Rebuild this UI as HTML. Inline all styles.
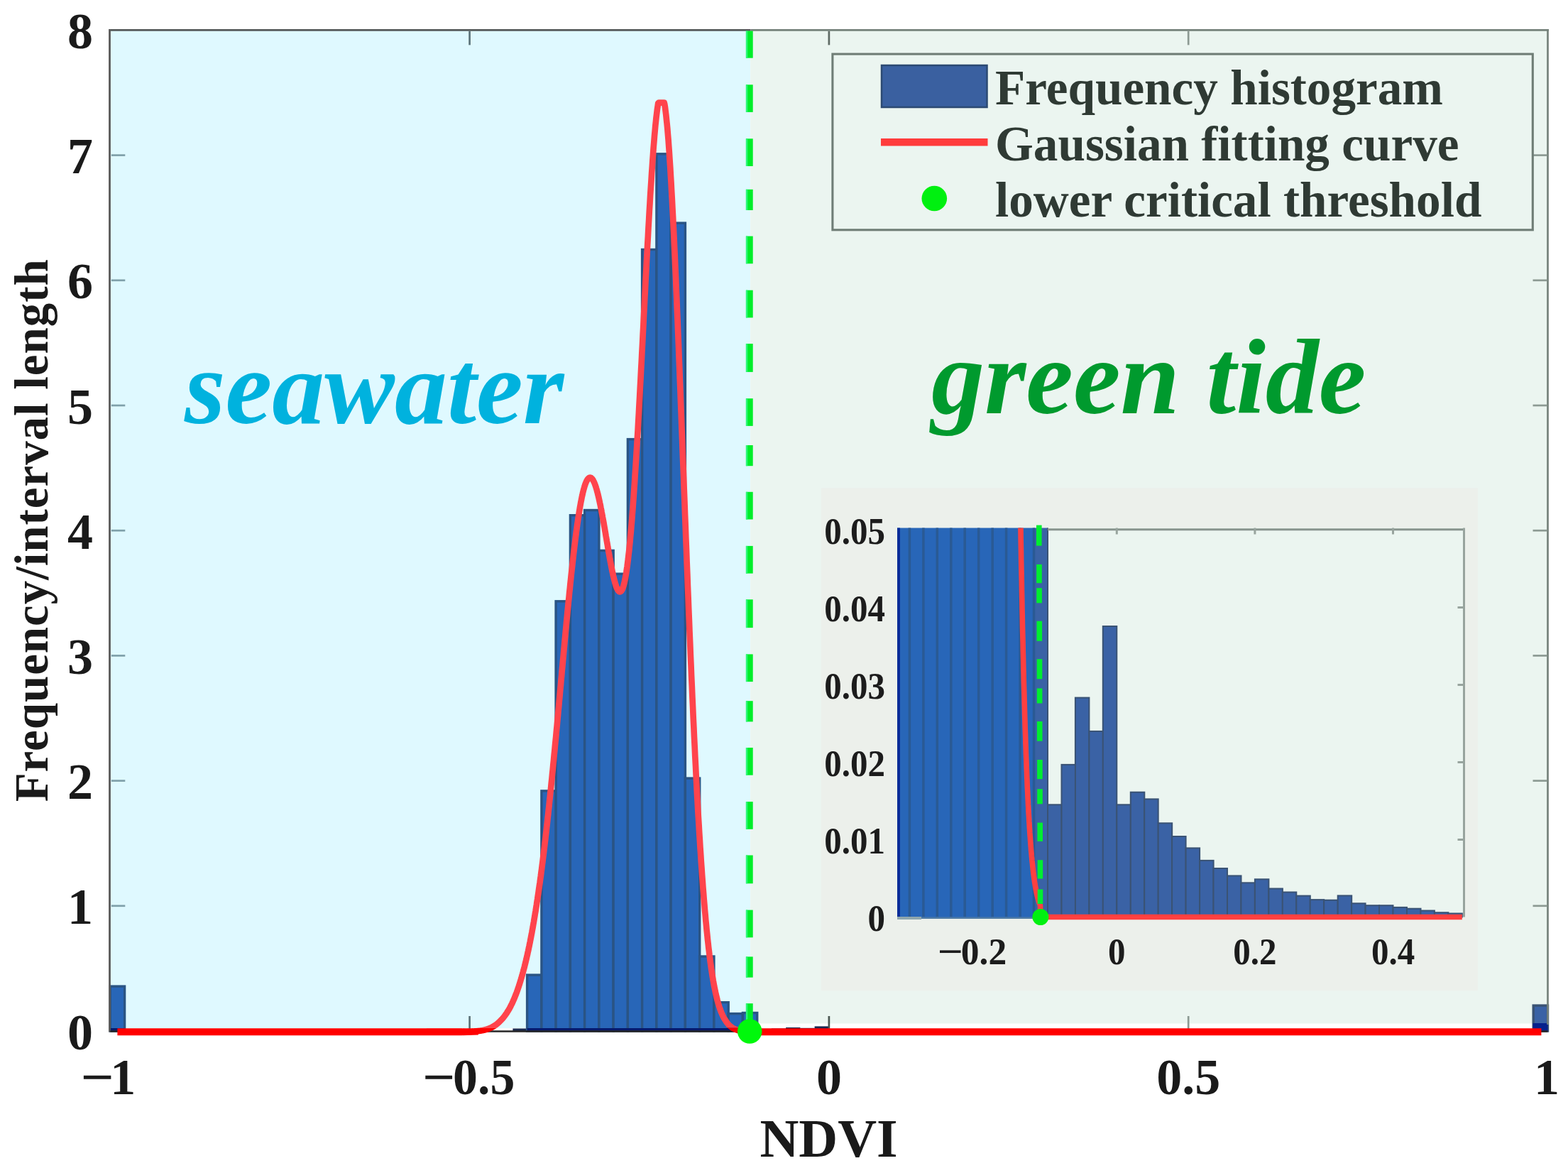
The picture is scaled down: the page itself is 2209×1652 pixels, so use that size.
<!DOCTYPE html>
<html lang="en"><head><meta charset="utf-8"><title>NDVI frequency histogram</title>
<style>
html,body{margin:0;padding:0;background:#fff;}
body{width:2209px;height:1652px;overflow:hidden;font-family:"Liberation Serif","Times New Roman",serif;}
svg{display:block;}
</style></head>
<body>
<svg width="2209" height="1652" viewBox="0 0 2209 1652">
<rect x="0" y="0" width="2209" height="1652" fill="#ffffff"/>
<rect x="155.3" y="42.4" width="901.9" height="1405.6" fill="#dff9ff"/>
<rect x="1057.2" y="42.4" width="1123.3" height="1399.1" fill="#ebf5f0"/>
<g id="bars" stroke-width="3.4">
<rect x="155.3" y="1389.1" width="20.3" height="62.9" fill="#2866b8" stroke="#2a5484"/>
<rect x="722.4" y="1448.5" width="20.3" height="3.5" fill="#1a2a50"/>
<rect x="742.6" y="1373.1" width="20.3" height="78.9" fill="#2866b8" stroke="#2a5484"/>
<rect x="762.9" y="1113.9" width="20.3" height="338.1" fill="#2866b8" stroke="#2a5484"/>
<rect x="783.1" y="846.8" width="20.3" height="605.2" fill="#2866b8" stroke="#2a5484"/>
<rect x="803.4" y="725.7" width="20.3" height="726.3" fill="#2866b8" stroke="#2a5484"/>
<rect x="823.6" y="718.5" width="20.3" height="733.5" fill="#2866b8" stroke="#2a5484"/>
<rect x="843.9" y="775.4" width="20.3" height="676.6" fill="#2866b8" stroke="#2a5484"/>
<rect x="864.1" y="808.2" width="20.3" height="643.8" fill="#2866b8" stroke="#2a5484"/>
<rect x="884.4" y="618.6" width="20.3" height="833.4" fill="#2866b8" stroke="#2a5484"/>
<rect x="904.6" y="351.5" width="20.3" height="1100.5" fill="#2866b8" stroke="#2a5484"/>
<rect x="924.9" y="216.8" width="20.3" height="1235.2" fill="#2866b8" stroke="#2a5484"/>
<rect x="945.1" y="314.1" width="20.3" height="1137.9" fill="#2866b8" stroke="#2a5484"/>
<rect x="965.4" y="1096.1" width="20.3" height="355.9" fill="#2866b8" stroke="#2a5484"/>
<rect x="985.6" y="1347.0" width="20.3" height="105.0" fill="#2866b8" stroke="#2a5484"/>
<rect x="1005.9" y="1411.7" width="20.3" height="40.3" fill="#2866b8" stroke="#2a5484"/>
<rect x="1026.1" y="1427.6" width="20.3" height="24.4" fill="#2866b8" stroke="#2a5484"/>
<rect x="1046.4" y="1426.5" width="20.3" height="25.5" fill="#2866b8" stroke="#2a5484"/>
<rect x="1066.6" y="1449.4" width="20.3" height="2.6" fill="#1a2a50"/>
<rect x="1086.9" y="1448.5" width="20.3" height="3.5" fill="#1a2a50"/>
<rect x="1107.1" y="1447.0" width="20.3" height="5.0" fill="#1a2a50"/>
<rect x="1127.4" y="1447.8" width="20.3" height="4.2" fill="#1a2a50"/>
<rect x="1147.6" y="1445.4" width="20.3" height="6.6" fill="#1a2a50"/>
<rect x="1167.9" y="1449.4" width="20.3" height="2.6" fill="#1a2a50"/>
<rect x="1188.2" y="1449.2" width="20.3" height="2.8" fill="#1a2a50"/>
<rect x="1208.4" y="1449.3" width="20.3" height="2.7" fill="#1a2a50"/>
<rect x="1228.7" y="1449.9" width="20.3" height="2.1" fill="#1a2a50"/>
<rect x="1248.9" y="1450.2" width="20.3" height="1.8" fill="#1a2a50"/>
<rect x="1269.2" y="1450.4" width="20.3" height="1.6" fill="#1a2a50"/>
<rect x="1289.4" y="1450.7" width="20.3" height="1.3" fill="#1a2a50"/>
<rect x="1309.7" y="1450.9" width="20.3" height="1.1" fill="#1a2a50"/>
<rect x="1329.9" y="1451.1" width="20.3" height="0.9" fill="#1a2a50"/>
<rect x="1350.2" y="1451.2" width="20.3" height="0.8" fill="#1a2a50"/>
<rect x="1370.4" y="1451.1" width="20.3" height="0.9" fill="#1a2a50"/>
<rect x="1390.7" y="1451.4" width="20.3" height="0.6" fill="#1a2a50"/>
<rect x="1410.9" y="1451.4" width="20.3" height="0.6" fill="#1a2a50"/>
<rect x="1431.2" y="1451.5" width="20.3" height="0.5" fill="#1a2a50"/>
<rect x="1451.4" y="1451.6" width="20.3" height="0.4" fill="#1a2a50"/>
<rect x="1471.7" y="1451.6" width="20.3" height="0.4" fill="#1a2a50"/>
<rect x="1491.9" y="1451.5" width="20.3" height="0.5" fill="#1a2a50"/>
<rect x="1512.2" y="1451.7" width="20.3" height="0.3" fill="#1a2a50"/>
<rect x="1532.4" y="1451.7" width="20.3" height="0.3" fill="#1a2a50"/>
<rect x="1552.7" y="1451.7" width="20.3" height="0.3" fill="#1a2a50"/>
<rect x="1572.9" y="1451.8" width="20.3" height="0.2" fill="#1a2a50"/>
<rect x="1593.2" y="1451.8" width="20.3" height="0.2" fill="#1a2a50"/>
<rect x="1613.4" y="1451.9" width="20.3" height="0.1" fill="#1a2a50"/>
<rect x="1633.7" y="1451.9" width="20.3" height="0.1" fill="#1a2a50"/>
<rect x="1653.9" y="1451.9" width="20.3" height="0.1" fill="#1a2a50"/>
<rect x="2160.2" y="1416.1" width="20.3" height="35.9" fill="#3a62a5" stroke="#3a5374"/>
</g>
<rect x="742.6" y="1448.0" width="324.0" height="5" fill="#061a6e"/>
<rect x="155.3" y="1448.0" width="20.2" height="5" fill="#061a6e"/>
<rect x="2159.5" y="1441.0" width="21.0" height="12" fill="#06208c"/>
<g id="frame" fill="none" stroke-width="2.7">
<line x1="154.5" y1="40.9" x2="154.5" y2="1453.5" stroke="#595959" stroke-width="2.8"/>
<line x1="155.3" y1="42.4" x2="1057.2" y2="42.4" stroke="#555a5a"/>
<line x1="1057.2" y1="42.4" x2="2182.0" y2="42.4" stroke="#75827b"/>
<line x1="2180.5" y1="42.4" x2="2180.5" y2="1443.0" stroke="#75827b"/>
<line x1="155.3" y1="1452.5" x2="2180.5" y2="1452.5" stroke="#262626"/>
<line x1="156.8" y1="1275.8" x2="176.3" y2="1275.8" stroke="#7fa0aa"/>
<line x1="2159.5" y1="1275.8" x2="2179.0" y2="1275.8" stroke="#8c9a93"/>
<line x1="156.8" y1="1099.6" x2="176.3" y2="1099.6" stroke="#7fa0aa"/>
<line x1="2159.5" y1="1099.6" x2="2179.0" y2="1099.6" stroke="#8c9a93"/>
<line x1="156.8" y1="923.4" x2="176.3" y2="923.4" stroke="#7fa0aa"/>
<line x1="2159.5" y1="923.4" x2="2179.0" y2="923.4" stroke="#8c9a93"/>
<line x1="156.8" y1="747.2" x2="176.3" y2="747.2" stroke="#7fa0aa"/>
<line x1="2159.5" y1="747.2" x2="2179.0" y2="747.2" stroke="#8c9a93"/>
<line x1="156.8" y1="571.0" x2="176.3" y2="571.0" stroke="#7fa0aa"/>
<line x1="2159.5" y1="571.0" x2="2179.0" y2="571.0" stroke="#8c9a93"/>
<line x1="156.8" y1="394.8" x2="176.3" y2="394.8" stroke="#7fa0aa"/>
<line x1="2159.5" y1="394.8" x2="2179.0" y2="394.8" stroke="#8c9a93"/>
<line x1="156.8" y1="218.6" x2="176.3" y2="218.6" stroke="#7fa0aa"/>
<line x1="2159.5" y1="218.6" x2="2179.0" y2="218.6" stroke="#8c9a93"/>
<line x1="661.6" y1="43.9" x2="661.6" y2="63.4" stroke="#5c737a"/>
<line x1="1167.9" y1="43.9" x2="1167.9" y2="63.4" stroke="#5e6a64"/>
<line x1="1674.2" y1="43.9" x2="1674.2" y2="63.4" stroke="#8c9a93"/>
<line x1="661.6" y1="1431.0" x2="661.6" y2="1452.0" stroke="#5c737a"/>
<line x1="1167.9" y1="1431.0" x2="1167.9" y2="1452.0" stroke="#4a5650"/>
<line x1="1674.2" y1="1431.0" x2="1674.2" y2="1452.0" stroke="#8c9a93"/>
</g>
<clipPath id="cTop"><rect x="0" y="0" width="2209" height="1447.4"/></clipPath>
<clipPath id="cBot"><rect x="0" y="1447.4" width="2209" height="40"/></clipPath>
<path d="M600.8,1453.2 L601.5,1453.2 L602.1,1453.2 L602.8,1453.2 L603.4,1453.2 L604.1,1453.2 L604.8,1453.2 L605.4,1453.2 L606.1,1453.2 L606.7,1453.2 L607.4,1453.2 L608.0,1453.2 L608.7,1453.2 L609.3,1453.2 L610.0,1453.2 L610.6,1453.2 L611.3,1453.2 L611.9,1453.2 L612.6,1453.2 L613.2,1453.2 L613.9,1453.2 L614.5,1453.2 L615.2,1453.2 L615.8,1453.2 L616.5,1453.2 L617.1,1453.2 L617.8,1453.2 L618.4,1453.2 L619.1,1453.2 L619.7,1453.2 L620.4,1453.2 L621.0,1453.2 L621.7,1453.2 L622.3,1453.2 L623.0,1453.2 L623.6,1453.2 L624.3,1453.2 L624.9,1453.2 L625.6,1453.2 L626.3,1453.2 L626.9,1453.2 L627.6,1453.2 L628.2,1453.2 L628.9,1453.2 L629.5,1453.2 L630.2,1453.2 L630.8,1453.2 L631.5,1453.2 L632.1,1453.2 L632.8,1453.2 L633.4,1453.2 L634.1,1453.2 L634.7,1453.2 L635.4,1453.2 L636.0,1453.2 L636.7,1453.2 L637.3,1453.2 L638.0,1453.2 L638.6,1453.2 L639.3,1453.2 L639.9,1453.2 L640.6,1453.2 L641.2,1453.2 L641.9,1453.2 L642.5,1453.2 L643.2,1453.2 L643.8,1453.2 L644.5,1453.2 L645.1,1453.1 L645.8,1453.1 L646.4,1453.1 L647.1,1453.1 L647.7,1453.1 L648.4,1453.1 L649.1,1453.1 L649.7,1453.1 L650.4,1453.1 L651.0,1453.1 L651.7,1453.1 L652.3,1453.1 L653.0,1453.1 L653.6,1453.1 L654.3,1453.0 L654.9,1453.0 L655.6,1453.0 L656.2,1453.0 L656.9,1453.0 L657.5,1453.0 L658.2,1453.0 L658.8,1452.9 L659.5,1452.9 L660.1,1452.9 L660.8,1452.9 L661.4,1452.9 L662.1,1452.8 L662.7,1452.8 L663.4,1452.8 L664.0,1452.8 L664.7,1452.7 L665.3,1452.7 L666.0,1452.7 L666.6,1452.6 L667.3,1452.6 L667.9,1452.5 L668.6,1452.5 L669.2,1452.4 L669.9,1452.4 L670.5,1452.3 L671.2,1452.3 L671.9,1452.2 L672.5,1452.1 L673.2,1452.1 L673.8,1452.0 L674.5,1451.9 L675.1,1451.8 L675.8,1451.8 L676.4,1451.7 L677.1,1451.6 L677.7,1451.5 L678.4,1451.3 L679.0,1451.2 L679.7,1451.1 L680.3,1451.0 L681.0,1450.9 L681.6,1450.7 L682.3,1450.6 L682.9,1450.4 L683.6,1450.2 L684.2,1450.1 L684.9,1449.9 L685.5,1449.7 L686.2,1449.5 L686.8,1449.3 L687.5,1449.1 L688.1,1448.8 L688.8,1448.6 L689.4,1448.3 L690.1,1448.1 L690.7,1447.8 L691.4,1447.5 L692.0,1447.2 L692.7,1446.9 L693.4,1446.5 L694.0,1446.2 L694.7,1445.8 L695.3,1445.4 L696.0,1445.0 L696.6,1444.6 L697.3,1444.2 L697.9,1443.7 L698.6,1443.3 L699.2,1442.8 L699.9,1442.3 L700.5,1441.8 L701.2,1441.2 L701.8,1440.7 L702.5,1440.1 L703.1,1439.5 L703.8,1438.8 L704.4,1438.2 L705.1,1437.5 L705.7,1436.9 L706.4,1436.2 L707.0,1435.5 L707.7,1434.8 L708.3,1434.0 L709.0,1433.3 L709.6,1432.5 L710.3,1431.7 L710.9,1430.8 L711.6,1429.9 L712.2,1429.0 L712.9,1428.1 L713.5,1427.2 L714.2,1426.2 L714.8,1425.1 L715.5,1424.1 L716.2,1423.0 L716.8,1421.9 L717.5,1420.8 L718.1,1419.6 L718.8,1418.4 L719.4,1417.1 L720.1,1415.8 L720.7,1414.5 L721.4,1413.2 L722.0,1411.8 L722.7,1410.4 L723.3,1408.9 L724.0,1407.4 L724.6,1405.9 L725.3,1404.3 L725.9,1402.7 L726.6,1401.0 L727.2,1399.3 L727.9,1397.6 L728.5,1395.8 L729.2,1394.0 L729.8,1392.1 L730.5,1390.2 L731.1,1388.3 L731.8,1386.3 L732.4,1384.2 L733.1,1382.1 L733.7,1380.0 L734.4,1377.8 L735.0,1375.6 L735.7,1373.3 L736.3,1371.0 L737.0,1368.6 L737.6,1366.1 L738.3,1363.7 L739.0,1361.1 L739.6,1358.5 L740.3,1355.9 L740.9,1353.2 L741.6,1350.4 L742.2,1347.6 L742.9,1344.8 L743.5,1341.8 L744.2,1338.9 L744.8,1335.8 L745.5,1332.7 L746.1,1329.6 L746.8,1326.3 L747.4,1323.1 L748.1,1319.7 L748.7,1316.3 L749.4,1312.8 L750.0,1309.3 L750.7,1305.7 L751.3,1302.0 L752.0,1298.3 L752.6,1294.5 L753.3,1290.6 L753.9,1286.7 L754.6,1282.7 L755.2,1278.6 L755.9,1274.4 L756.5,1270.2 L757.2,1265.9 L757.8,1261.6 L758.5,1257.1 L759.1,1252.6 L759.8,1248.0 L760.5,1243.4 L761.1,1238.7 L761.8,1233.9 L762.4,1229.0 L763.1,1224.0 L763.7,1219.0 L764.4,1213.9 L765.0,1208.7 L765.7,1203.5 L766.3,1198.2 L767.0,1192.8 L767.6,1187.3 L768.3,1181.8 L768.9,1176.2 L769.6,1170.5 L770.2,1164.7 L770.9,1158.9 L771.5,1153.0 L772.2,1147.0 L772.8,1141.0 L773.5,1134.9 L774.1,1128.8 L774.8,1122.5 L775.4,1116.3 L776.1,1109.9 L776.7,1103.5 L777.4,1097.0 L778.0,1090.5 L778.7,1084.0 L779.3,1077.3 L780.0,1070.7 L780.6,1063.9 L781.3,1057.2 L781.9,1050.4 L782.6,1043.5 L783.3,1036.6 L783.9,1029.7 L784.6,1022.8 L785.2,1015.8 L785.9,1008.8 L786.5,1001.7 L787.2,994.7 L787.8,987.6 L788.5,980.5 L789.1,973.4 L789.8,966.3 L790.4,959.2 L791.1,952.1 L791.7,945.0 L792.4,937.9 L793.0,930.8 L793.7,923.8 L794.3,916.7 L795.0,909.7 L795.6,902.7 L796.3,895.7 L796.9,888.8 L797.6,881.9 L798.2,875.1 L798.9,868.3 L799.5,861.5 L800.2,854.8 L800.8,848.2 L801.5,841.6 L802.1,835.1 L802.8,828.7 L803.4,822.3 L804.1,816.1 L804.7,809.9 L805.4,803.8 L806.1,797.8 L806.7,791.9 L807.4,786.1 L808.0,780.4 L808.7,774.8 L809.3,769.4 L810.0,764.0 L810.6,758.8 L811.3,753.7 L811.9,748.7 L812.6,743.9 L813.2,739.2 L813.9,734.6 L814.5,730.2 L815.2,725.9 L815.8,721.8 L816.5,717.8 L817.1,714.0 L817.8,710.3 L818.4,706.8 L819.1,703.5 L819.7,700.3 L820.4,697.3 L821.0,694.4 L821.7,691.7 L822.3,689.2 L823.0,686.9 L823.6,684.7 L824.3,682.8 L824.9,680.9 L825.6,679.3 L826.2,677.9 L826.9,676.6 L827.5,675.5 L828.2,674.6 L828.9,673.8 L829.5,673.3 L830.2,672.9 L830.8,672.7 L831.5,672.6 L832.1,672.8 L832.8,673.1 L833.4,673.6 L834.1,674.2 L834.7,675.0 L835.4,676.0 L836.0,677.2 L836.7,678.5 L837.3,679.9 L838.0,681.6 L838.6,683.3 L839.3,685.2 L839.9,687.3 L840.6,689.5 L841.2,691.8 L841.9,694.3 L842.5,696.9 L843.2,699.6 L843.8,702.4 L844.5,705.4 L845.1,708.4 L845.8,711.5 L846.4,714.8 L847.1,718.1 L847.7,721.5 L848.4,725.0 L849.0,728.5 L849.7,732.1 L850.4,735.8 L851.0,739.5 L851.7,743.3 L852.3,747.0 L853.0,750.8 L853.6,754.7 L854.3,758.5 L854.9,762.3 L855.6,766.1 L856.2,769.9 L856.9,773.7 L857.5,777.5 L858.2,781.2 L858.8,784.8 L859.5,788.4 L860.1,791.9 L860.8,795.4 L861.4,798.7 L862.1,802.0 L862.7,805.1 L863.4,808.1 L864.0,811.0 L864.7,813.8 L865.3,816.4 L866.0,818.9 L866.6,821.2 L867.3,823.3 L867.9,825.3 L868.6,827.1 L869.2,828.6 L869.9,830.0 L870.5,831.1 L871.2,832.0 L871.8,832.7 L872.5,833.2 L873.2,833.4 L873.8,833.3 L874.5,833.0 L875.1,832.4 L875.8,831.5 L876.4,830.4 L877.1,829.0 L877.7,827.2 L878.4,825.2 L879.0,822.9 L879.7,820.2 L880.3,817.2 L881.0,814.0 L881.6,810.4 L882.3,806.4 L882.9,802.2 L883.6,797.6 L884.2,792.7 L884.9,787.4 L885.5,781.8 L886.2,775.9 L886.8,769.7 L887.5,763.1 L888.1,756.2 L888.8,749.0 L889.4,741.5 L890.1,733.6 L890.7,725.4 L891.4,717.0 L892.0,708.2 L892.7,699.1 L893.3,689.7 L894.0,680.1 L894.6,670.2 L895.3,660.0 L896.0,649.5 L896.6,638.8 L897.3,627.9 L897.9,616.8 L898.6,605.4 L899.2,593.9 L899.9,582.1 L900.5,570.2 L901.2,558.1 L901.8,545.9 L902.5,533.6 L903.1,521.1 L903.8,508.5 L904.4,495.9 L905.1,483.2 L905.7,470.5 L906.4,457.7 L907.0,444.9 L907.7,432.1 L908.3,419.4 L909.0,406.7 L909.6,394.0 L910.3,381.5 L910.9,369.0 L911.6,356.7 L912.2,344.5 L912.9,332.5 L913.5,320.6 L914.2,309.0 L914.8,297.5 L915.5,286.4 L916.1,275.4 L916.8,264.8 L917.5,254.4 L918.1,244.3 L918.8,234.6 L919.4,225.3 L920.1,216.2 L920.7,207.6 L921.4,199.4 L922.0,191.6 L922.7,184.2 L923.3,177.2 L924.0,170.7 L924.6,164.7 L925.3,159.2 L925.9,154.1 L926.6,149.6 L927.2,145.5 L927.9,144.6 L928.5,144.6 L929.2,144.6 L929.8,144.6 L930.5,144.6 L931.1,144.6 L931.8,144.6 L932.4,144.6 L933.1,144.6 L933.7,144.6 L934.4,144.6 L935.0,144.6 L935.7,144.6 L936.3,146.9 L937.0,151.3 L937.6,156.2 L938.3,161.7 L938.9,167.7 L939.6,174.3 L940.3,181.4 L940.9,189.0 L941.6,197.2 L942.2,205.9 L942.9,215.1 L943.5,224.8 L944.2,234.9 L944.8,245.6 L945.5,256.7 L946.1,268.2 L946.8,280.2 L947.4,292.6 L948.1,305.4 L948.7,318.5 L949.4,332.1 L950.0,346.0 L950.7,360.2 L951.3,374.8 L952.0,389.6 L952.6,404.8 L953.3,420.2 L953.9,435.9 L954.6,451.7 L955.2,467.9 L955.9,484.2 L956.5,500.6 L957.2,517.3 L957.8,534.1 L958.5,551.0 L959.1,568.0 L959.8,585.1 L960.4,602.3 L961.1,619.5 L961.7,636.8 L962.4,654.1 L963.1,671.4 L963.7,688.6 L964.4,705.9 L965.0,723.1 L965.7,740.2 L966.3,757.3 L967.0,774.3 L967.6,791.2 L968.3,808.0 L968.9,824.6 L969.6,841.1 L970.2,857.5 L970.9,873.7 L971.5,889.7 L972.2,905.5 L972.8,921.2 L973.5,936.6 L974.1,951.8 L974.8,966.9 L975.4,981.6 L976.1,996.2 L976.7,1010.5 L977.4,1024.6 L978.0,1038.4 L978.7,1052.0 L979.3,1065.3 L980.0,1078.3 L980.6,1091.1 L981.3,1103.6 L981.9,1115.8 L982.6,1127.8 L983.2,1139.5 L983.9,1150.9 L984.6,1162.0 L985.2,1172.8 L985.9,1183.4 L986.5,1193.7 L987.2,1203.7 L987.8,1213.5 L988.5,1222.9 L989.1,1232.1 L989.8,1241.1 L990.4,1249.7 L991.1,1258.2 L991.7,1266.3 L992.4,1274.2 L993.0,1281.8 L993.7,1289.2 L994.3,1296.3 L995.0,1303.2 L995.6,1309.9 L996.3,1316.3 L996.9,1322.5 L997.6,1328.5 L998.2,1334.2 L998.9,1339.8 L999.5,1345.1 L1000.2,1350.2 L1000.8,1355.2 L1001.5,1359.9 L1002.1,1364.4 L1002.8,1368.8 L1003.4,1373.0 L1004.1,1377.0 L1004.7,1380.8 L1005.4,1384.5 L1006.0,1388.0 L1006.7,1391.4 L1007.4,1394.6 L1008.0,1397.7 L1008.7,1400.6 L1009.3,1403.4 L1010.0,1406.0 L1010.6,1408.6 L1011.3,1411.0 L1011.9,1413.3 L1012.6,1415.5 L1013.2,1417.6 L1013.9,1419.6 L1014.5,1421.4 L1015.2,1423.2 L1015.8,1424.9 L1016.5,1426.5 L1017.1,1428.0 L1017.8,1429.5 L1018.4,1430.9 L1019.1,1432.1 L1019.7,1433.4 L1020.4,1434.5 L1021.0,1435.6 L1021.7,1436.6 L1022.3,1437.6 L1023.0,1438.6 L1023.6,1439.5 L1024.3,1440.4 L1024.9,1441.2 L1025.6,1442.0 L1026.2,1442.8 L1026.9,1443.5 L1027.5,1444.1 L1028.2,1444.7 L1028.8,1445.3 L1029.5,1445.8 L1030.2,1446.3 L1030.8,1446.8 L1031.5,1447.3 L1032.1,1447.7 L1032.8,1448.1 L1033.4,1448.4 L1034.1,1448.8 L1034.7,1449.1 L1035.4,1449.4 L1036.0,1449.7 L1036.7,1449.9 L1037.3,1450.2 L1038.0,1450.4 L1038.6,1450.6 L1039.3,1450.8 L1039.9,1451.0 L1040.6,1451.1 L1041.2,1451.3 L1041.9,1451.4 L1042.5,1451.6 L1043.2,1451.7 L1043.8,1451.8 L1044.5,1451.9 L1045.1,1452.0 L1045.8,1452.1 L1046.4,1452.2 L1047.1,1452.3 L1047.7,1452.4 L1048.4,1452.4 L1049.0,1452.5 L1049.7,1452.6 L1050.3,1452.6 L1051.0,1452.7 L1051.7,1452.7 L1052.3,1452.7 L1053.0,1452.8 L1053.6,1452.8 L1054.3,1452.8 L1054.9,1452.9 L1055.6,1452.9 L1056.2,1452.9" fill="none" stroke="#ff444c" stroke-width="8.7" stroke-linejoin="round" clip-path="url(#cTop)"/>
<path d="M600.8,1453.2 L601.5,1453.2 L602.1,1453.2 L602.8,1453.2 L603.4,1453.2 L604.1,1453.2 L604.8,1453.2 L605.4,1453.2 L606.1,1453.2 L606.7,1453.2 L607.4,1453.2 L608.0,1453.2 L608.7,1453.2 L609.3,1453.2 L610.0,1453.2 L610.6,1453.2 L611.3,1453.2 L611.9,1453.2 L612.6,1453.2 L613.2,1453.2 L613.9,1453.2 L614.5,1453.2 L615.2,1453.2 L615.8,1453.2 L616.5,1453.2 L617.1,1453.2 L617.8,1453.2 L618.4,1453.2 L619.1,1453.2 L619.7,1453.2 L620.4,1453.2 L621.0,1453.2 L621.7,1453.2 L622.3,1453.2 L623.0,1453.2 L623.6,1453.2 L624.3,1453.2 L624.9,1453.2 L625.6,1453.2 L626.3,1453.2 L626.9,1453.2 L627.6,1453.2 L628.2,1453.2 L628.9,1453.2 L629.5,1453.2 L630.2,1453.2 L630.8,1453.2 L631.5,1453.2 L632.1,1453.2 L632.8,1453.2 L633.4,1453.2 L634.1,1453.2 L634.7,1453.2 L635.4,1453.2 L636.0,1453.2 L636.7,1453.2 L637.3,1453.2 L638.0,1453.2 L638.6,1453.2 L639.3,1453.2 L639.9,1453.2 L640.6,1453.2 L641.2,1453.2 L641.9,1453.2 L642.5,1453.2 L643.2,1453.2 L643.8,1453.2 L644.5,1453.2 L645.1,1453.1 L645.8,1453.1 L646.4,1453.1 L647.1,1453.1 L647.7,1453.1 L648.4,1453.1 L649.1,1453.1 L649.7,1453.1 L650.4,1453.1 L651.0,1453.1 L651.7,1453.1 L652.3,1453.1 L653.0,1453.1 L653.6,1453.1 L654.3,1453.0 L654.9,1453.0 L655.6,1453.0 L656.2,1453.0 L656.9,1453.0 L657.5,1453.0 L658.2,1453.0 L658.8,1452.9 L659.5,1452.9 L660.1,1452.9 L660.8,1452.9 L661.4,1452.9 L662.1,1452.8 L662.7,1452.8 L663.4,1452.8 L664.0,1452.8 L664.7,1452.7 L665.3,1452.7 L666.0,1452.7 L666.6,1452.6 L667.3,1452.6 L667.9,1452.5 L668.6,1452.5 L669.2,1452.4 L669.9,1452.4 L670.5,1452.3 L671.2,1452.3 L671.9,1452.2 L672.5,1452.1 L673.2,1452.1 L673.8,1452.0 L674.5,1451.9 L675.1,1451.8 L675.8,1451.8 L676.4,1451.7 L677.1,1451.6 L677.7,1451.5 L678.4,1451.3 L679.0,1451.2 L679.7,1451.1 L680.3,1451.0 L681.0,1450.9 L681.6,1450.7 L682.3,1450.6 L682.9,1450.4 L683.6,1450.2 L684.2,1450.1 L684.9,1449.9 L685.5,1449.7 L686.2,1449.5 L686.8,1449.3 L687.5,1449.1 L688.1,1448.8 L688.8,1448.6 L689.4,1448.3 L690.1,1448.1 L690.7,1447.8 L691.4,1447.5 L692.0,1447.2 L692.7,1446.9 L693.4,1446.5 L694.0,1446.2 L694.7,1445.8 L695.3,1445.4 L696.0,1445.0 L696.6,1444.6 L697.3,1444.2 L697.9,1443.7 L698.6,1443.3 L699.2,1442.8 L699.9,1442.3 L700.5,1441.8 L701.2,1441.2 L701.8,1440.7 L702.5,1440.1 L703.1,1439.5 L703.8,1438.8 L704.4,1438.2 L705.1,1437.5 L705.7,1436.9 L706.4,1436.2 L707.0,1435.5 L707.7,1434.8 L708.3,1434.0 L709.0,1433.3 L709.6,1432.5 L710.3,1431.7 L710.9,1430.8 L711.6,1429.9 L712.2,1429.0 L712.9,1428.1 L713.5,1427.2 L714.2,1426.2 L714.8,1425.1 L715.5,1424.1 L716.2,1423.0 L716.8,1421.9 L717.5,1420.8 L718.1,1419.6 L718.8,1418.4 L719.4,1417.1 L720.1,1415.8 L720.7,1414.5 L721.4,1413.2 L722.0,1411.8 L722.7,1410.4 L723.3,1408.9 L724.0,1407.4 L724.6,1405.9 L725.3,1404.3 L725.9,1402.7 L726.6,1401.0 L727.2,1399.3 L727.9,1397.6 L728.5,1395.8 L729.2,1394.0 L729.8,1392.1 L730.5,1390.2 L731.1,1388.3 L731.8,1386.3 L732.4,1384.2 L733.1,1382.1 L733.7,1380.0 L734.4,1377.8 L735.0,1375.6 L735.7,1373.3 L736.3,1371.0 L737.0,1368.6 L737.6,1366.1 L738.3,1363.7 L739.0,1361.1 L739.6,1358.5 L740.3,1355.9 L740.9,1353.2 L741.6,1350.4 L742.2,1347.6 L742.9,1344.8 L743.5,1341.8 L744.2,1338.9 L744.8,1335.8 L745.5,1332.7 L746.1,1329.6 L746.8,1326.3 L747.4,1323.1 L748.1,1319.7 L748.7,1316.3 L749.4,1312.8 L750.0,1309.3 L750.7,1305.7 L751.3,1302.0 L752.0,1298.3 L752.6,1294.5 L753.3,1290.6 L753.9,1286.7 L754.6,1282.7 L755.2,1278.6 L755.9,1274.4 L756.5,1270.2 L757.2,1265.9 L757.8,1261.6 L758.5,1257.1 L759.1,1252.6 L759.8,1248.0 L760.5,1243.4 L761.1,1238.7 L761.8,1233.9 L762.4,1229.0 L763.1,1224.0 L763.7,1219.0 L764.4,1213.9 L765.0,1208.7 L765.7,1203.5 L766.3,1198.2 L767.0,1192.8 L767.6,1187.3 L768.3,1181.8 L768.9,1176.2 L769.6,1170.5 L770.2,1164.7 L770.9,1158.9 L771.5,1153.0 L772.2,1147.0 L772.8,1141.0 L773.5,1134.9 L774.1,1128.8 L774.8,1122.5 L775.4,1116.3 L776.1,1109.9 L776.7,1103.5 L777.4,1097.0 L778.0,1090.5 L778.7,1084.0 L779.3,1077.3 L780.0,1070.7 L780.6,1063.9 L781.3,1057.2 L781.9,1050.4 L782.6,1043.5 L783.3,1036.6 L783.9,1029.7 L784.6,1022.8 L785.2,1015.8 L785.9,1008.8 L786.5,1001.7 L787.2,994.7 L787.8,987.6 L788.5,980.5 L789.1,973.4 L789.8,966.3 L790.4,959.2 L791.1,952.1 L791.7,945.0 L792.4,937.9 L793.0,930.8 L793.7,923.8 L794.3,916.7 L795.0,909.7 L795.6,902.7 L796.3,895.7 L796.9,888.8 L797.6,881.9 L798.2,875.1 L798.9,868.3 L799.5,861.5 L800.2,854.8 L800.8,848.2 L801.5,841.6 L802.1,835.1 L802.8,828.7 L803.4,822.3 L804.1,816.1 L804.7,809.9 L805.4,803.8 L806.1,797.8 L806.7,791.9 L807.4,786.1 L808.0,780.4 L808.7,774.8 L809.3,769.4 L810.0,764.0 L810.6,758.8 L811.3,753.7 L811.9,748.7 L812.6,743.9 L813.2,739.2 L813.9,734.6 L814.5,730.2 L815.2,725.9 L815.8,721.8 L816.5,717.8 L817.1,714.0 L817.8,710.3 L818.4,706.8 L819.1,703.5 L819.7,700.3 L820.4,697.3 L821.0,694.4 L821.7,691.7 L822.3,689.2 L823.0,686.9 L823.6,684.7 L824.3,682.8 L824.9,680.9 L825.6,679.3 L826.2,677.9 L826.9,676.6 L827.5,675.5 L828.2,674.6 L828.9,673.8 L829.5,673.3 L830.2,672.9 L830.8,672.7 L831.5,672.6 L832.1,672.8 L832.8,673.1 L833.4,673.6 L834.1,674.2 L834.7,675.0 L835.4,676.0 L836.0,677.2 L836.7,678.5 L837.3,679.9 L838.0,681.6 L838.6,683.3 L839.3,685.2 L839.9,687.3 L840.6,689.5 L841.2,691.8 L841.9,694.3 L842.5,696.9 L843.2,699.6 L843.8,702.4 L844.5,705.4 L845.1,708.4 L845.8,711.5 L846.4,714.8 L847.1,718.1 L847.7,721.5 L848.4,725.0 L849.0,728.5 L849.7,732.1 L850.4,735.8 L851.0,739.5 L851.7,743.3 L852.3,747.0 L853.0,750.8 L853.6,754.7 L854.3,758.5 L854.9,762.3 L855.6,766.1 L856.2,769.9 L856.9,773.7 L857.5,777.5 L858.2,781.2 L858.8,784.8 L859.5,788.4 L860.1,791.9 L860.8,795.4 L861.4,798.7 L862.1,802.0 L862.7,805.1 L863.4,808.1 L864.0,811.0 L864.7,813.8 L865.3,816.4 L866.0,818.9 L866.6,821.2 L867.3,823.3 L867.9,825.3 L868.6,827.1 L869.2,828.6 L869.9,830.0 L870.5,831.1 L871.2,832.0 L871.8,832.7 L872.5,833.2 L873.2,833.4 L873.8,833.3 L874.5,833.0 L875.1,832.4 L875.8,831.5 L876.4,830.4 L877.1,829.0 L877.7,827.2 L878.4,825.2 L879.0,822.9 L879.7,820.2 L880.3,817.2 L881.0,814.0 L881.6,810.4 L882.3,806.4 L882.9,802.2 L883.6,797.6 L884.2,792.7 L884.9,787.4 L885.5,781.8 L886.2,775.9 L886.8,769.7 L887.5,763.1 L888.1,756.2 L888.8,749.0 L889.4,741.5 L890.1,733.6 L890.7,725.4 L891.4,717.0 L892.0,708.2 L892.7,699.1 L893.3,689.7 L894.0,680.1 L894.6,670.2 L895.3,660.0 L896.0,649.5 L896.6,638.8 L897.3,627.9 L897.9,616.8 L898.6,605.4 L899.2,593.9 L899.9,582.1 L900.5,570.2 L901.2,558.1 L901.8,545.9 L902.5,533.6 L903.1,521.1 L903.8,508.5 L904.4,495.9 L905.1,483.2 L905.7,470.5 L906.4,457.7 L907.0,444.9 L907.7,432.1 L908.3,419.4 L909.0,406.7 L909.6,394.0 L910.3,381.5 L910.9,369.0 L911.6,356.7 L912.2,344.5 L912.9,332.5 L913.5,320.6 L914.2,309.0 L914.8,297.5 L915.5,286.4 L916.1,275.4 L916.8,264.8 L917.5,254.4 L918.1,244.3 L918.8,234.6 L919.4,225.3 L920.1,216.2 L920.7,207.6 L921.4,199.4 L922.0,191.6 L922.7,184.2 L923.3,177.2 L924.0,170.7 L924.6,164.7 L925.3,159.2 L925.9,154.1 L926.6,149.6 L927.2,145.5 L927.9,144.6 L928.5,144.6 L929.2,144.6 L929.8,144.6 L930.5,144.6 L931.1,144.6 L931.8,144.6 L932.4,144.6 L933.1,144.6 L933.7,144.6 L934.4,144.6 L935.0,144.6 L935.7,144.6 L936.3,146.9 L937.0,151.3 L937.6,156.2 L938.3,161.7 L938.9,167.7 L939.6,174.3 L940.3,181.4 L940.9,189.0 L941.6,197.2 L942.2,205.9 L942.9,215.1 L943.5,224.8 L944.2,234.9 L944.8,245.6 L945.5,256.7 L946.1,268.2 L946.8,280.2 L947.4,292.6 L948.1,305.4 L948.7,318.5 L949.4,332.1 L950.0,346.0 L950.7,360.2 L951.3,374.8 L952.0,389.6 L952.6,404.8 L953.3,420.2 L953.9,435.9 L954.6,451.7 L955.2,467.9 L955.9,484.2 L956.5,500.6 L957.2,517.3 L957.8,534.1 L958.5,551.0 L959.1,568.0 L959.8,585.1 L960.4,602.3 L961.1,619.5 L961.7,636.8 L962.4,654.1 L963.1,671.4 L963.7,688.6 L964.4,705.9 L965.0,723.1 L965.7,740.2 L966.3,757.3 L967.0,774.3 L967.6,791.2 L968.3,808.0 L968.9,824.6 L969.6,841.1 L970.2,857.5 L970.9,873.7 L971.5,889.7 L972.2,905.5 L972.8,921.2 L973.5,936.6 L974.1,951.8 L974.8,966.9 L975.4,981.6 L976.1,996.2 L976.7,1010.5 L977.4,1024.6 L978.0,1038.4 L978.7,1052.0 L979.3,1065.3 L980.0,1078.3 L980.6,1091.1 L981.3,1103.6 L981.9,1115.8 L982.6,1127.8 L983.2,1139.5 L983.9,1150.9 L984.6,1162.0 L985.2,1172.8 L985.9,1183.4 L986.5,1193.7 L987.2,1203.7 L987.8,1213.5 L988.5,1222.9 L989.1,1232.1 L989.8,1241.1 L990.4,1249.7 L991.1,1258.2 L991.7,1266.3 L992.4,1274.2 L993.0,1281.8 L993.7,1289.2 L994.3,1296.3 L995.0,1303.2 L995.6,1309.9 L996.3,1316.3 L996.9,1322.5 L997.6,1328.5 L998.2,1334.2 L998.9,1339.8 L999.5,1345.1 L1000.2,1350.2 L1000.8,1355.2 L1001.5,1359.9 L1002.1,1364.4 L1002.8,1368.8 L1003.4,1373.0 L1004.1,1377.0 L1004.7,1380.8 L1005.4,1384.5 L1006.0,1388.0 L1006.7,1391.4 L1007.4,1394.6 L1008.0,1397.7 L1008.7,1400.6 L1009.3,1403.4 L1010.0,1406.0 L1010.6,1408.6 L1011.3,1411.0 L1011.9,1413.3 L1012.6,1415.5 L1013.2,1417.6 L1013.9,1419.6 L1014.5,1421.4 L1015.2,1423.2 L1015.8,1424.9 L1016.5,1426.5 L1017.1,1428.0 L1017.8,1429.5 L1018.4,1430.9 L1019.1,1432.1 L1019.7,1433.4 L1020.4,1434.5 L1021.0,1435.6 L1021.7,1436.6 L1022.3,1437.6 L1023.0,1438.6 L1023.6,1439.5 L1024.3,1440.4 L1024.9,1441.2 L1025.6,1442.0 L1026.2,1442.8 L1026.9,1443.5 L1027.5,1444.1 L1028.2,1444.7 L1028.8,1445.3 L1029.5,1445.8 L1030.2,1446.3 L1030.8,1446.8 L1031.5,1447.3 L1032.1,1447.7 L1032.8,1448.1 L1033.4,1448.4 L1034.1,1448.8 L1034.7,1449.1 L1035.4,1449.4 L1036.0,1449.7 L1036.7,1449.9 L1037.3,1450.2 L1038.0,1450.4 L1038.6,1450.6 L1039.3,1450.8 L1039.9,1451.0 L1040.6,1451.1 L1041.2,1451.3 L1041.9,1451.4 L1042.5,1451.6 L1043.2,1451.7 L1043.8,1451.8 L1044.5,1451.9 L1045.1,1452.0 L1045.8,1452.1 L1046.4,1452.2 L1047.1,1452.3 L1047.7,1452.4 L1048.4,1452.4 L1049.0,1452.5 L1049.7,1452.6 L1050.3,1452.6 L1051.0,1452.7 L1051.7,1452.7 L1052.3,1452.7 L1053.0,1452.8 L1053.6,1452.8 L1054.3,1452.8 L1054.9,1452.9 L1055.6,1452.9 L1056.2,1452.9" fill="none" stroke="#ff0000" stroke-width="8.7" stroke-linejoin="round" clip-path="url(#cBot)"/>
<line x1="165.4" y1="1453.2" x2="651.5" y2="1453.2" stroke="#ff0000" stroke-width="10"/>
<path d="M651.5,1448.2 L673.8,1448.85 L673.8,1457.55 L651.5,1458.2 Z" fill="#ff0000"/>
<line x1="1056.2" y1="1453.2" x2="2171.4" y2="1453.2" stroke="#ff0000" stroke-width="10"/>
<g id="thr">
<rect x="1050.9" y="43.5" width="9.8" height="38.2" fill="#00ee2a"/>
<rect x="1050.9" y="43.5" width="2.4" height="38.2" fill="#2cf676"/>
<rect x="1050.9" y="119.3" width="9.8" height="38.6" fill="#00ee2a"/>
<rect x="1050.9" y="119.3" width="2.4" height="38.6" fill="#2cf676"/>
<rect x="1050.9" y="195.3" width="9.8" height="38.7" fill="#00ee2a"/>
<rect x="1050.9" y="195.3" width="2.4" height="38.7" fill="#2cf676"/>
<rect x="1050.9" y="266.8" width="9.8" height="29.2" fill="#00ee2a"/>
<rect x="1050.9" y="266.8" width="2.4" height="29.2" fill="#2cf676"/>
<rect x="1050.9" y="332.6" width="9.8" height="38.7" fill="#00ee2a"/>
<rect x="1050.9" y="332.6" width="2.4" height="38.7" fill="#2cf676"/>
<rect x="1050.9" y="408.7" width="9.8" height="38.7" fill="#00ee2a"/>
<rect x="1050.9" y="408.7" width="2.4" height="38.7" fill="#2cf676"/>
<rect x="1050.9" y="484.1" width="9.8" height="39.8" fill="#00ee2a"/>
<rect x="1050.9" y="484.1" width="2.4" height="39.8" fill="#2cf676"/>
<rect x="1050.9" y="561.2" width="9.8" height="38.7" fill="#00ee2a"/>
<rect x="1050.9" y="561.2" width="2.4" height="38.7" fill="#2cf676"/>
<rect x="1050.9" y="627.0" width="9.8" height="29.2" fill="#00ee2a"/>
<rect x="1050.9" y="627.0" width="2.4" height="29.2" fill="#2cf676"/>
<rect x="1050.9" y="692.8" width="9.8" height="38.7" fill="#00ee2a"/>
<rect x="1050.9" y="692.8" width="2.4" height="38.7" fill="#2cf676"/>
<rect x="1050.9" y="768.9" width="9.8" height="38.7" fill="#00ee2a"/>
<rect x="1050.9" y="768.9" width="2.4" height="38.7" fill="#2cf676"/>
<rect x="1050.9" y="844.3" width="9.8" height="39.8" fill="#00ee2a"/>
<rect x="1050.9" y="844.3" width="2.4" height="39.8" fill="#2cf676"/>
<rect x="1050.9" y="921.4" width="9.8" height="38.7" fill="#00ee2a"/>
<rect x="1050.9" y="921.4" width="2.4" height="38.7" fill="#2cf676"/>
<rect x="1050.9" y="987.2" width="9.8" height="29.2" fill="#00ee2a"/>
<rect x="1050.9" y="987.2" width="2.4" height="29.2" fill="#2cf676"/>
<rect x="1050.9" y="1053.0" width="9.8" height="38.7" fill="#00ee2a"/>
<rect x="1050.9" y="1053.0" width="2.4" height="38.7" fill="#2cf676"/>
<rect x="1050.9" y="1129.1" width="9.8" height="38.7" fill="#00ee2a"/>
<rect x="1050.9" y="1129.1" width="2.4" height="38.7" fill="#2cf676"/>
<rect x="1050.9" y="1204.5" width="9.8" height="39.8" fill="#00ee2a"/>
<rect x="1050.9" y="1204.5" width="2.4" height="39.8" fill="#2cf676"/>
<rect x="1050.9" y="1281.6" width="9.8" height="38.7" fill="#00ee2a"/>
<rect x="1050.9" y="1281.6" width="2.4" height="38.7" fill="#2cf676"/>
<rect x="1050.9" y="1347.4" width="9.8" height="29.2" fill="#00ee2a"/>
<rect x="1050.9" y="1347.4" width="2.4" height="29.2" fill="#2cf676"/>
<rect x="1050.9" y="1413.2" width="9.8" height="38.7" fill="#00ee2a"/>
<rect x="1050.9" y="1413.2" width="2.4" height="38.7" fill="#2cf676"/>
<circle cx="1056.2" cy="1452.5" r="17.3" fill="#00f80c"/>
</g>
<g id="legend">
<rect x="1172.9" y="76.1" width="986.4" height="247.7" fill="#ebf5f0" stroke="#6f7d76" stroke-width="3.1"/>
<rect x="1242" y="92" width="148.5" height="59" fill="#3a60a0" stroke="#2c4a72" stroke-width="2.5"/>
<line x1="1241" y1="200.3" x2="1391.5" y2="200.3" stroke="#ff3c3c" stroke-width="10.5"/>
<circle cx="1316.3" cy="279.5" r="17.8" fill="#00f010"/>
</g>
<g id="inset">
<rect x="1156.8" y="687.3" width="925.2" height="707.7" fill="#ecf0eb"/>
<rect x="1476.0" y="743.5" width="586.5" height="548.0" fill="#ebf5f0"/>
<rect x="1264.0" y="743.5" width="17.4" height="549.8" fill="#2866b8"/>
<rect x="1281.4" y="743.5" width="19.5" height="549.8" fill="#2866b8"/>
<rect x="1300.9" y="743.5" width="19.5" height="549.8" fill="#2866b8"/>
<rect x="1320.3" y="743.5" width="19.5" height="549.8" fill="#2866b8"/>
<rect x="1339.8" y="743.5" width="19.5" height="549.8" fill="#2866b8"/>
<rect x="1359.2" y="743.5" width="19.5" height="549.8" fill="#2866b8"/>
<rect x="1378.7" y="743.5" width="19.5" height="549.8" fill="#2866b8"/>
<rect x="1398.2" y="743.5" width="19.5" height="549.8" fill="#2866b8"/>
<rect x="1417.6" y="743.5" width="19.5" height="549.8" fill="#2866b8"/>
<rect x="1437.1" y="743.5" width="19.5" height="549.8" fill="#2866b8"/>
<rect x="1456.5" y="743.5" width="19.5" height="549.8" fill="#3a62a5"/>
<line x1="1281.4" y1="743.5" x2="1281.4" y2="1291.5" stroke="#2a5a94" stroke-width="3.5"/>
<line x1="1300.9" y1="743.5" x2="1300.9" y2="1291.5" stroke="#2a5a94" stroke-width="3.5"/>
<line x1="1320.3" y1="743.5" x2="1320.3" y2="1291.5" stroke="#2a5a94" stroke-width="3.5"/>
<line x1="1339.8" y1="743.5" x2="1339.8" y2="1291.5" stroke="#2a5a94" stroke-width="3.5"/>
<line x1="1359.2" y1="743.5" x2="1359.2" y2="1291.5" stroke="#2a5a94" stroke-width="3.5"/>
<line x1="1378.7" y1="743.5" x2="1378.7" y2="1291.5" stroke="#2a5a94" stroke-width="3.5"/>
<line x1="1398.2" y1="743.5" x2="1398.2" y2="1291.5" stroke="#2a5a94" stroke-width="3.5"/>
<line x1="1417.6" y1="743.5" x2="1417.6" y2="1291.5" stroke="#2a5a94" stroke-width="3.5"/>
<line x1="1437.1" y1="743.5" x2="1437.1" y2="1291.5" stroke="#2a5a94" stroke-width="3.5"/>
<line x1="1456.5" y1="743.5" x2="1456.5" y2="1291.5" stroke="#2a5a94" stroke-width="3.5"/>
<line x1="1266.0" y1="743.5" x2="1266.0" y2="1291.5" stroke="#082c98" stroke-width="4"/>
<line x1="1476.0" y1="743.5" x2="1476.0" y2="1291.5" stroke="#3a5374" stroke-width="2"/>
<rect x="1476.0" y="1133.3" width="19.5" height="158.2" fill="#3a62a5" stroke="#3a5374" stroke-width="2"/>
<rect x="1495.5" y="1076.9" width="19.5" height="214.6" fill="#3a62a5" stroke="#3a5374" stroke-width="2"/>
<rect x="1514.9" y="982.6" width="19.5" height="308.9" fill="#3a62a5" stroke="#3a5374" stroke-width="2"/>
<rect x="1534.4" y="1029.9" width="19.5" height="261.6" fill="#3a62a5" stroke="#3a5374" stroke-width="2"/>
<rect x="1553.8" y="882.0" width="19.5" height="409.5" fill="#3a62a5" stroke="#3a5374" stroke-width="2"/>
<rect x="1573.3" y="1133.3" width="19.5" height="158.2" fill="#3a62a5" stroke="#3a5374" stroke-width="2"/>
<rect x="1592.8" y="1115.7" width="19.5" height="175.8" fill="#3a62a5" stroke="#3a5374" stroke-width="2"/>
<rect x="1612.2" y="1125.4" width="19.5" height="166.1" fill="#3a62a5" stroke="#3a5374" stroke-width="2"/>
<rect x="1631.7" y="1159.3" width="19.5" height="132.2" fill="#3a62a5" stroke="#3a5374" stroke-width="2"/>
<rect x="1651.1" y="1178.0" width="19.5" height="113.5" fill="#3a62a5" stroke="#3a5374" stroke-width="2"/>
<rect x="1670.6" y="1194.4" width="19.5" height="97.1" fill="#3a62a5" stroke="#3a5374" stroke-width="2"/>
<rect x="1690.1" y="1211.9" width="19.5" height="79.6" fill="#3a62a5" stroke="#3a5374" stroke-width="2"/>
<rect x="1709.5" y="1223.0" width="19.5" height="68.5" fill="#3a62a5" stroke="#3a5374" stroke-width="2"/>
<rect x="1729.0" y="1233.4" width="19.5" height="58.1" fill="#3a62a5" stroke="#3a5374" stroke-width="2"/>
<rect x="1748.4" y="1243.3" width="19.5" height="48.2" fill="#3a62a5" stroke="#3a5374" stroke-width="2"/>
<rect x="1767.9" y="1238.3" width="19.5" height="53.2" fill="#3a62a5" stroke="#3a5374" stroke-width="2"/>
<rect x="1787.4" y="1251.5" width="19.5" height="40.0" fill="#3a62a5" stroke="#3a5374" stroke-width="2"/>
<rect x="1806.8" y="1256.5" width="19.5" height="35.0" fill="#3a62a5" stroke="#3a5374" stroke-width="2"/>
<rect x="1826.3" y="1261.6" width="19.5" height="29.9" fill="#3a62a5" stroke="#3a5374" stroke-width="2"/>
<rect x="1845.7" y="1267.1" width="19.5" height="24.4" fill="#3a62a5" stroke="#3a5374" stroke-width="2"/>
<rect x="1865.2" y="1267.7" width="19.5" height="23.8" fill="#3a62a5" stroke="#3a5374" stroke-width="2"/>
<rect x="1884.7" y="1261.4" width="19.5" height="30.1" fill="#3a62a5" stroke="#3a5374" stroke-width="2"/>
<rect x="1904.1" y="1272.3" width="19.5" height="19.2" fill="#3a62a5" stroke="#3a5374" stroke-width="2"/>
<rect x="1923.6" y="1275.2" width="19.5" height="16.3" fill="#3a62a5" stroke="#3a5374" stroke-width="2"/>
<rect x="1943.0" y="1275.2" width="19.5" height="16.3" fill="#3a62a5" stroke="#3a5374" stroke-width="2"/>
<rect x="1962.5" y="1277.9" width="19.5" height="13.6" fill="#3a62a5" stroke="#3a5374" stroke-width="2"/>
<rect x="1982.0" y="1279.7" width="19.5" height="11.8" fill="#3a62a5" stroke="#3a5374" stroke-width="2"/>
<rect x="2001.4" y="1282.5" width="19.5" height="9.0" fill="#3a62a5" stroke="#3a5374" stroke-width="2"/>
<rect x="2020.9" y="1285.2" width="19.5" height="6.3" fill="#3a62a5" stroke="#3a5374" stroke-width="2"/>
<rect x="2040.3" y="1286.5" width="19.5" height="5.0" fill="#3a62a5" stroke="#3a5374" stroke-width="2"/>
<line x1="1476.0" y1="745.7" x2="2064.0" y2="745.7" stroke="#88948e" stroke-width="3"/>
<line x1="2062.5" y1="743.5" x2="2062.5" y2="1291.5" stroke="#98a49e" stroke-width="3"/>
<line x1="1264.0" y1="1293.1" x2="1298" y2="1293.1" stroke="#8fa6ad" stroke-width="4"/>
<line x1="1298" y1="1292.7" x2="1461.4" y2="1292.7" stroke="#4f7ba6" stroke-width="2.4"/>
<line x1="1573.3" y1="743.5" x2="1573.3" y2="752.5" stroke="#98a49e" stroke-width="3"/>
<line x1="1767.9" y1="743.5" x2="1767.9" y2="752.5" stroke="#98a49e" stroke-width="3"/>
<line x1="1962.5" y1="743.5" x2="1962.5" y2="752.5" stroke="#98a49e" stroke-width="3"/>
<line x1="2053.5" y1="1182.5" x2="2062.5" y2="1182.5" stroke="#98a49e" stroke-width="3"/>
<line x1="2053.5" y1="1073.5" x2="2062.5" y2="1073.5" stroke="#98a49e" stroke-width="3"/>
<line x1="2053.5" y1="964.5" x2="2062.5" y2="964.5" stroke="#98a49e" stroke-width="3"/>
<line x1="2053.5" y1="855.5" x2="2062.5" y2="855.5" stroke="#98a49e" stroke-width="3"/>
<clipPath id="ic"><rect x="1264.0" y="743.5" width="800.5" height="554.0"/></clipPath>
<path d="M1435.1,549.2 L1435.4,569.4 L1435.6,589.1 L1435.9,608.4 L1436.2,627.1 L1436.4,645.4 L1436.7,663.3 L1436.9,680.7 L1437.2,697.7 L1437.5,714.2 L1437.7,730.4 L1438.0,746.1 L1438.2,761.4 L1438.5,776.4 L1438.7,790.9 L1439.0,805.1 L1439.3,818.9 L1439.5,832.4 L1439.8,845.5 L1440.0,858.3 L1440.3,870.8 L1440.5,882.9 L1440.8,894.7 L1441.1,906.2 L1441.3,917.4 L1441.6,928.3 L1441.8,938.9 L1442.1,949.2 L1442.3,959.3 L1442.6,969.1 L1442.9,978.6 L1443.1,987.8 L1443.4,996.9 L1443.6,1005.6 L1443.9,1014.2 L1444.1,1022.5 L1444.4,1030.5 L1444.7,1038.4 L1444.9,1046.0 L1445.2,1053.4 L1445.4,1060.7 L1445.7,1067.7 L1446.0,1074.5 L1446.2,1081.1 L1446.5,1087.6 L1446.7,1093.8 L1447.0,1099.9 L1447.2,1105.8 L1447.5,1111.6 L1447.8,1117.2 L1448.0,1122.6 L1448.3,1127.8 L1448.5,1133.0 L1448.8,1137.9 L1449.0,1142.8 L1449.3,1147.4 L1449.6,1152.0 L1449.8,1156.4 L1450.1,1160.7 L1450.3,1164.9 L1450.6,1168.9 L1450.8,1172.8 L1451.1,1176.6 L1451.4,1180.3 L1451.6,1183.9 L1451.9,1187.4 L1452.1,1190.7 L1452.4,1194.0 L1452.6,1197.2 L1452.9,1200.3 L1453.2,1203.2 L1453.4,1206.1 L1453.7,1208.9 L1453.9,1211.6 L1454.2,1214.3 L1454.5,1216.8 L1454.7,1219.3 L1455.0,1221.7 L1455.2,1224.0 L1455.5,1226.3 L1455.7,1228.5 L1456.0,1230.6 L1456.3,1232.6 L1456.5,1234.6 L1456.8,1236.5 L1457.0,1238.4 L1457.3,1240.2 L1457.5,1241.9 L1457.8,1243.6 L1458.1,1245.3 L1458.3,1246.9 L1458.6,1248.4 L1458.8,1249.9 L1459.1,1251.3 L1459.3,1252.7 L1459.6,1254.0 L1459.9,1255.3 L1460.1,1256.6 L1460.4,1257.8 L1460.6,1259.0 L1460.9,1260.1 L1461.1,1261.2 L1461.4,1262.3 L1461.7,1263.3 L1461.9,1264.3 L1462.2,1265.3 L1462.4,1266.2 L1462.7,1267.1 L1463.0,1268.0 L1463.2,1268.8 L1463.5,1269.6 L1463.7,1270.4 L1464.0,1271.2 L1464.2,1271.9 L1464.5,1272.6 L1464.8,1273.3 L1465.0,1274.0 L1465.3,1274.6 L1465.5,1275.2 L1465.8,1291.5 L1465.8,1291.5 L2059.8,1291.5" fill="none" stroke="#ff4040" stroke-width="7.6" stroke-linejoin="round" clip-path="url(#ic)"/>
<rect x="1460.0" y="739.6" width="7.6" height="29.0" fill="#00ee30"/>
<rect x="1460.2" y="794.9" width="7.6" height="26.3" fill="#00ee30"/>
<rect x="1460.3" y="828.2" width="7.6" height="21.1" fill="#00ee30"/>
<rect x="1460.5" y="874.7" width="7.6" height="28.1" fill="#00ee30"/>
<rect x="1460.7" y="928.2" width="7.6" height="28.1" fill="#00ee30"/>
<rect x="1460.8" y="969.5" width="7.6" height="21.0" fill="#00ee30"/>
<rect x="1460.9" y="1016.0" width="7.6" height="27.7" fill="#00ee30"/>
<rect x="1461.1" y="1070.0" width="7.6" height="27.2" fill="#00ee30"/>
<rect x="1461.2" y="1111.2" width="7.6" height="21.1" fill="#00ee30"/>
<rect x="1461.4" y="1158.6" width="7.6" height="26.3" fill="#00ee30"/>
<rect x="1461.6" y="1211.2" width="7.6" height="26.3" fill="#00ee30"/>
<rect x="1461.7" y="1252.5" width="7.6" height="20.5" fill="#00ee30"/>
<circle cx="1465.9" cy="1291.5" r="11.5" fill="#00f010"/>
</g>
<g id="labels" font-family="'Liberation Serif', 'Times New Roman', serif" font-weight="bold" font-size="72" fill="#1a1a1a">
<text x="131" y="1477.5" text-anchor="end">0</text>
<text x="131" y="1301.3" text-anchor="end">1</text>
<text x="131" y="1125.1" text-anchor="end">2</text>
<text x="131" y="948.9" text-anchor="end">3</text>
<text x="131" y="772.7" text-anchor="end">4</text>
<text x="131" y="596.5" text-anchor="end">5</text>
<text x="131" y="420.3" text-anchor="end">6</text>
<text x="131" y="244.1" text-anchor="end">7</text>
<text x="131" y="67.9" text-anchor="end">8</text>
<text x="1167.9" y="1541" text-anchor="middle">0</text>
<text x="1674.2" y="1541" text-anchor="middle">0.5</text>
<text x="2179.0" y="1541" text-anchor="middle">1</text>
<g><text transform="translate(113.6,1541) scale(1.15,1)">−</text><text x="155.2" y="1541">1</text></g>
<g><text transform="translate(595.1,1541) scale(1.13,1)">−</text><text transform="translate(638.1,1541) scale(0.97,1)">0.5</text></g>
<text x="1167.5" y="1629" text-anchor="middle" font-size="76">NDVI</text>
<text transform="translate(67.4,1129.3) rotate(-90)" font-size="67" textLength="764" lengthAdjust="spacing">Frequency/interval length</text>
</g>
<g id="legtext" font-family="'Liberation Serif', 'Times New Roman', serif" font-weight="bold" font-size="69.2" fill="#2f3a34">
<text x="1402" y="147">Frequency histogram</text>
<text x="1402" y="225.5">Gaussian fitting curve</text>
<text x="1402" y="305">lower critical threshold</text>
</g>
<g id="big" font-family="'Liberation Serif', 'Times New Roman', serif" font-weight="bold" font-style="italic" font-size="150">
<text x="260" y="596.3" fill="#00b2de" font-size="148">seawater</text>
<text x="1312" y="582.4" fill="#009a2e">green tide</text>
</g>
<g id="insettext" font-family="'Liberation Serif', 'Times New Roman', serif" font-weight="bold" font-size="50.5" fill="#1c1c1c">
<text transform="translate(1247,1310.7) scale(0.97,1.05)" text-anchor="end">0</text>
<text transform="translate(1247,1201.7) scale(0.97,1.05)" text-anchor="end">0.01</text>
<text transform="translate(1247,1092.7) scale(0.97,1.05)" text-anchor="end">0.02</text>
<text transform="translate(1247,983.7) scale(0.97,1.05)" text-anchor="end">0.03</text>
<text transform="translate(1247,874.7) scale(0.97,1.05)" text-anchor="end">0.04</text>
<text transform="translate(1247,765.7) scale(0.97,1.05)" text-anchor="end">0.05</text>
<text transform="translate(1573.3,1357.6) scale(0.97,1.05)" text-anchor="middle">0</text>
<text transform="translate(1767.9,1357.6) scale(0.97,1.05)" text-anchor="middle">0.2</text>
<text transform="translate(1962.5,1357.6) scale(0.97,1.05)" text-anchor="middle">0.4</text>
<g><text transform="translate(1320.5,1357.6) scale(1.26,1.05)">−</text><text transform="translate(1353.8,1357.6) scale(1.02,1.05)">0.2</text></g>
</g>
</svg>
</body></html>
